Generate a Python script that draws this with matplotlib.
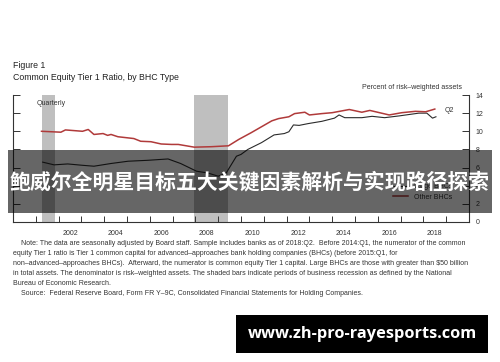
import matplotlib.pyplot as plt
from matplotlib.patches import Rectangle

plt.rcParams['font.family'] = ['Liberation Sans', 'DejaVu Sans']

# Other BHCs (red)
other_x = [2001.25, 2002.1, 2002.3, 2003.05, 2003.3, 2003.55, 2003.95, 2004.15, 2004.3,
           2004.6, 2005.3, 2005.6, 2006.05, 2006.5, 2006.95, 2007.25, 2007.95, 2008.7,
           2009.45, 2009.9, 2010.45, 2010.9, 2011.35, 2011.65, 2012.1, 2012.35, 2012.8,
           2013.0, 2013.55, 2014.0, 2014.75, 2015.3, 2015.65, 2016.5, 2017.05, 2017.65,
           2018.1, 2018.5]
other_y = [10.0, 9.9, 10.15, 10.0, 10.2, 9.65, 9.75, 9.55, 9.65,
           9.4, 9.2, 8.9, 8.85, 8.6, 8.55, 8.55, 8.25, 8.3,
           8.4, 9.1, 9.85, 10.5, 11.15, 11.4, 11.6, 11.95, 12.1,
           11.8, 11.95, 12.05, 12.4, 12.1, 12.3, 11.8, 12.05, 12.2,
           12.15, 12.45]

# Large BHCs (black)
large_x = [2001.3, 2001.8, 2002.4, 2003.05, 2003.55, 2004.3, 2005.05, 2005.9, 2006.8,
           2007.35, 2008.05, 2008.55, 2009.0, 2009.35, 2009.8, 2010.0, 2010.3, 2010.9,
           2011.45, 2011.9, 2012.1, 2012.3, 2012.55, 2012.95, 2013.55, 2014.1, 2014.3,
           2014.55, 2015.3, 2015.75, 2016.3, 2016.95, 2017.8, 2018.15, 2018.4, 2018.55]
large_y = [6.6, 6.3, 6.4, 6.25, 6.15, 6.45, 6.7, 6.8, 6.95,
           6.45, 5.6, 5.4, 5.05, 5.4, 7.25, 7.45, 8.0, 8.75,
           9.6, 9.75, 9.95, 10.7, 10.65, 10.85, 11.1, 11.45, 11.8,
           11.5, 11.5, 11.65, 11.5, 11.7, 12.0, 12.0, 11.45, 11.6]

# recessions (NBER)
recessions = [(2001.25, 2001.83), (2007.95, 2009.45)]
year_labels = [2002, 2004, 2006, 2008, 2010, 2012, 2014, 2016, 2018]

note = ("Note: The data are seasonally adjusted by Board staff. Sample includes banks as of 2018:Q2.  Before 2014:Q1, the numerator of the common\n"
        "equity Tier 1 ratio is Tier 1 common capital for advanced\u2013approaches bank holding companies (BHCs) (before 2015:Q1, for\n"
        "non\u2013advanced\u2013approaches BHCs).  Afterward, the numerator is common equity Tier 1 capital. Large BHCs are those with greater than $50 billion\n"
        "in total assets. The denominator is risk\u2013weighted assets. The shaded bars indicate periods of business recession as defined by the National\n"
        "Bureau of Economic Research.")
source = "Source:  Federal Reserve Board, Form FR Y\u20139C, Consolidated Financial Statements for Holding Companies."

fig = plt.figure(figsize=(5, 3.62), dpi=100)
W, H = 500, 362
ax = fig.add_axes([13 / W, 1 - 222 / H, (469 - 13) / W, (222 - 95) / H])

for a, b in recessions:
    ax.axvspan(a, b, ymin=0, ymax=1, color='#bfbfbf', lw=0, zorder=0)

ax.plot(large_x, large_y, color='#2b2b2b', lw=0.8, label='Large BHCs')
ax.plot(other_x, other_y, color='#b03a3a', lw=1.1, label='Other BHCs')

ax.set_xlim(2000, 2020)
ax.set_ylim(0, 14)
ax.spines['top'].set_visible(False)
for s in ['left', 'right', 'bottom']:
    ax.spines[s].set_color('#333333')
    ax.spines[s].set_linewidth(0.8)

ax.set_xticks(range(2001, 2020))
ax.set_xticklabels([])
ax.set_xticks([y + 0.5 for y in year_labels], minor=True)
ax.set_xticklabels([str(y) for y in year_labels], minor=True, fontsize=5, color='#333333')
ax.tick_params(axis='x', which='major', direction='in', length=4, width=0.7, color='#333333')
ax.tick_params(axis='x', which='minor', length=0, pad=6)

ax.set_yticks(range(0, 15, 2))
ax.yaxis.set_ticks_position('both')
ax.tick_params(axis='y', direction='in', length=5, width=0.7, color='#333333',
               labelleft=False, labelright=True, labelsize=5, labelcolor='#333333', pad=5)

ax.text(2001.05, 13.1, 'Quarterly', fontsize=5, color='#333333', va='center')
ax.text(2018.95, 12.3, 'Q2', fontsize=5, color='#333333', va='center')
ax.text(0.985, 1.03, 'Percent of risk\u2013weighted assets', transform=ax.transAxes,
        fontsize=5, color='#333333', ha='right', va='bottom')

ax.legend(loc='lower left', bbox_to_anchor=(0.82, 0.12), frameon=False, fontsize=5,
          handlelength=2.2, handletextpad=0.8, labelspacing=0.5, labelcolor='#333333')

fig.text(13 / W, 1 - 66 / H, 'Figure 1', fontsize=6.3, color='#222222', va='center')
fig.text(13 / W, 1 - 78 / H, 'Common Equity Tier 1 Ratio, by BHC Type', fontsize=6.3,
         color='#222222', va='center')

fig.text(13 / W, 1 - 240 / H, '    ' + note, fontsize=5, color='#333333', va='top',
         linespacing=1.6)
fig.text(13 / W, 1 - 290 / H, '    ' + source, fontsize=5, color='#333333', va='top')

# overlay banner
fig.patches.append(Rectangle((8 / W, 1 - 213 / H), 484 / W, 63 / H, transform=fig.transFigure,
                             facecolor='black', alpha=0.6, lw=0, zorder=5))
fig.text(0.5, 1 - 182 / H, '鲍威尔全明星目标五大关键因素解析与实现路径探索', fontsize=15,
         color='white', fontweight='bold', ha='center', va='center', zorder=6,
         family=['Noto Sans CJK SC', 'DejaVu Sans'])

# watermark box
fig.patches.append(Rectangle((236 / W, 1 - 353 / H), 252 / W, 38 / H, transform=fig.transFigure,
                             facecolor='black', lw=0, zorder=5))
fig.text(362 / W, 1 - 334 / H, 'www.zh-pro-rayesports.com', fontsize=11.8, color='white',
         fontweight='bold', ha='center', va='center', zorder=6, family=['Open Sans', 'DejaVu Sans'])

fig.savefig('out.png', dpi=100)
